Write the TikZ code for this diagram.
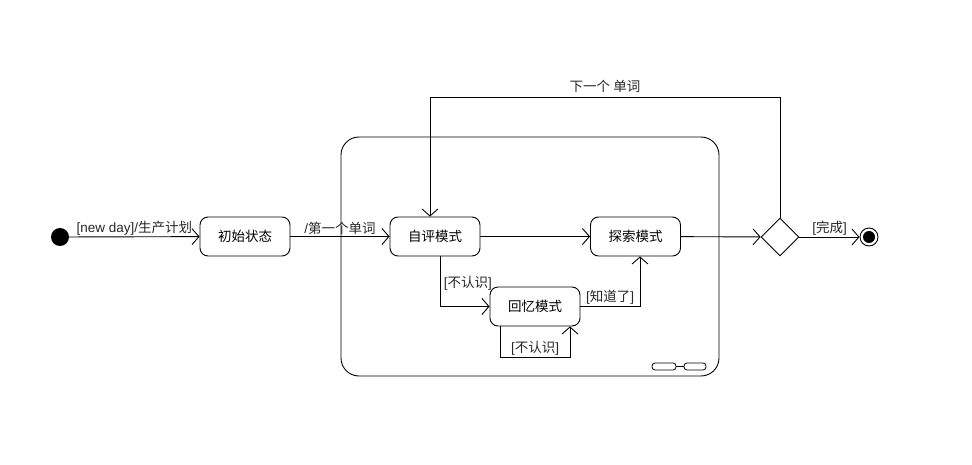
\documentclass[tikz,border=0pt]{standalone}
\usepackage{fontspec}
\setmainfont{Liberation Sans}
\newfontfamily\cjk{Noto Sans CJK SC}
\usepackage{tikz}
\usetikzlibrary{positioning, arrows.meta, shapes.geometric}

\tikzset{
  state/.style={draw, line width=0.9pt, rounded corners=8pt, minimum width=90pt, minimum height=39pt, inner sep=0pt, font=\cjk\fontsize{13.5}{16}\selectfont},
  trans/.style={line width=0.9pt, -{Straight Barb[length=7pt, width=16pt, line width=0.9pt]}},
  lbl/.style={inner sep=1.5pt, font=\fontsize{13.5}{16}\selectfont, text=black!85}
}

\begin{document}
\begin{tikzpicture}[x=1pt, y=-1pt]
			\useasboundingbox (0,0) rectangle (972,465);

			% Composite state
			\node[draw, line width=0.9pt, rounded corners=18pt, minimum width=378pt, minimum height=239pt] (compound) at (530,256.5) {};
			\draw[line width=0.8pt, rounded corners=3pt] (652,363) rectangle (676,370);
			\draw[line width=0.8pt, rounded corners=3pt] (684,363) rectangle (706,370);
			\draw[line width=0.8pt] (676,366.5) -- (684,366.5);

			% Start and end
			\node[circle, fill=black, minimum size=18pt, inner sep=0pt] (start) at (60,237) {};
			\node[circle, draw, line width=0.9pt, minimum size=18pt, inner sep=0pt] (final) at (869,237) {};
			\node[circle, fill=black, minimum size=12pt, inner sep=0pt] (finaldot) at (final.center) {};

			% States
			\node[state] (init) at (245,236.5) {初始状态};
			\node[state] (selfeval) at (435,236.5) {自评模式};
			\node[state] (explore) at (635.5,236.5) {探索模式};
			\node[state] (recall) at (535,306.5) {回忆模式};

			% Choice
			\node[diamond, draw, line width=0.9pt, minimum width=38pt, minimum height=38pt, inner sep=0pt] (choice) at (780,237) {};
			\coordinate (looptop) at (780,97);

			% Transitions
			\draw[trans] (start) -- node[lbl, above] {[new day]/{\cjk 生产计划}} (init);
			\draw[trans] (init) -- node[lbl, above] {/{\cjk 第一个单词}} (selfeval);
			\draw[trans] (selfeval) -- (explore);
			\draw[trans] (explore) -- (choice);
			\draw[trans] (choice) -- node[lbl, above] {[{\cjk 完成}]} (final);
			\draw[trans] (choice.north) -- (looptop) -| node[lbl, pos=0.25, above, yshift=2pt] {\cjk 下一个 单词} ([xshift=-5pt]selfeval.north);
			\draw[trans] ([xshift=5pt]selfeval.south) |- node[lbl, pos=0.27, anchor=west, xshift=2pt] {[{\cjk 不认识}]} (recall);
			\draw[trans] (recall) -| node[lbl, pos=0.25, above] {[{\cjk 知道了}]} ([xshift=4.5pt]explore.south);
			\draw[trans] ([xshift=-35pt]recall.south) -- ++(0,31) -| node[lbl, pos=0.25, above] {[{\cjk 不认识}]} ([xshift=35pt]recall.south);
		\end{tikzpicture}
\end{document}
